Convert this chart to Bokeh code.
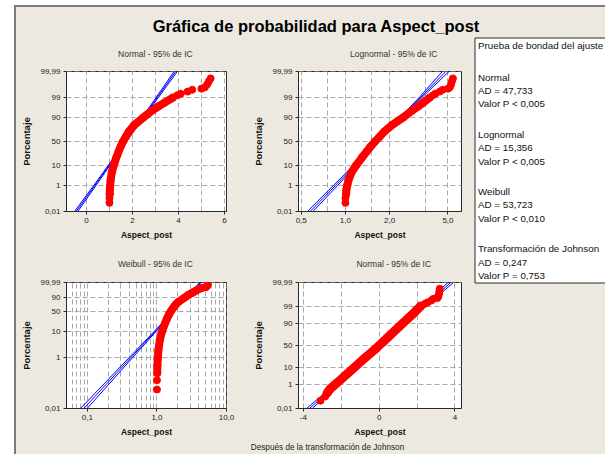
import math
from statistics import NormalDist
from bokeh.plotting import figure
from bokeh.layouts import row, column
from bokeh.models import Range1d, FixedTicker, CustomJSTickFormatter, Div, Spacer
from bokeh.core.properties import value
from bokeh.embed import file_html
from bokeh.resources import INLINE

# ---------------- texts ----------------
title_text = "Gráfica de probabilidad para Aspect_post"
subtitles = ["Normal - 95% de IC", "Lognormal - 95% de IC", "Weibull - 95% de IC", "Normal - 95% de IC"]
x_label = "Aspect_post"
y_label = "Porcentaje"
footnote = "Después de la transformación de Johnson"

legend_title = "Prueba de bondad del ajuste"
legend_blocks = [
    ["Normal", "AD = 47,733", "Valor P < 0,005"],
    ["Lognormal", "AD = 15,356", "Valor P < 0,005"],
    ["Weibull", "AD = 53,723", "Valor P < 0,010"],
    ["Transformación de Johnson", "AD = 0,247", "Valor P = 0,753"],
]

# ---------------- data ----------------
percent = [0.056, 0.13, 0.25, 0.5, 1, 2, 5, 10, 20, 30, 40, 50, 60, 70, 80, 90, 95, 97, 98, 99,
           99.3, 99.45, 99.6, 99.7, 99.75, 99.8, 99.88, 99.93, 99.96]
aspect_post = [1.00, 1.00, 1.01, 1.015, 1.03, 1.05, 1.10, 1.18, 1.30, 1.40, 1.49, 1.59, 1.71, 1.84, 2.05,
               2.48, 2.85, 3.15, 3.38, 3.75, 3.95, 4.10, 4.40, 4.60, 5.00, 5.15, 5.25, 5.32, 5.40]
johnson_values = [-3.10, -2.85, -2.75, -2.60, -2.35, -2.07, -1.66, -1.29, -0.86, -0.53, -0.25, 0.00, 0.24,
                  0.50, 0.80, 1.22, 1.57, 1.80, 1.95, 2.20, 2.42, 2.55, 2.75, 2.85, 3.08, 3.12, 3.16, 3.18, 3.20]

fit_pct = [0.01, 1, 50, 99, 99.99]
normal_fit = [-0.45, 0.37, 1.72, 3.07, 3.88]
normal_lo = [-0.52, 0.32, 1.70, 3.02, 3.81]
normal_hi = [-0.38, 0.42, 1.74, 3.12, 3.95]
lognormal_fit = [0.576, 0.858, 1.668, 3.24, 4.83]
lognormal_lo = [0.551, 0.830, 1.650, 3.17, 4.58]
lognormal_hi = [0.601, 0.887, 1.686, 3.31, 5.08]
johnson_fit = [-3.68, -2.28, 0.05, 2.38, 3.78]
johnson_lo = [-3.83, -2.38, 0.02, 2.30, 3.63]
johnson_hi = [-3.53, -2.18, 0.08, 2.46, 3.93]
weib_fit_pct = [0.01, 1, 10, 63.2, 99.99]
weibull_fit = [0.0886, 0.4209, 0.9313, 1.993, 4.22]
weibull_lo = [0.0794, 0.3973, 0.9014, 1.966, 4.12]
weibull_hi = [0.0991, 0.4459, 0.9622, 2.021, 4.32]

# ---------------- axes ----------------
pct_ticks = [0.01, 1, 10, 50, 90, 99, 99.99]
pct_labels = ["0,01", "1", "10", "50", "90", "99", "99,99"]
weib_pct_ticks = [0.01, 1, 10, 50, 90, 99.99]
weib_pct_labels = ["0,01", "1", "10", "50", "90", "99,99"]

x_ticks_normal = [0, 2, 4, 6]
x_labels_normal = ["0", "2", "4", "6"]
x_minor_normal = [1, 3, 5]
x_range_normal = (-0.87, 6.09)
x_ticks_lognormal = [0.5, 1.0, 2.0, 5.0]
x_labels_lognormal = ["0,5", "1,0", "2,0", "5,0"]
x_minor_lognormal = [0.75, 1.5, 3.5]
x_range_lognormal = (0.479, 6.18)
x_ticks_weibull = [0.1, 1.0, 10.0]
x_labels_weibull = ["0,1", "1,0", "10,0"]
x_minor_weibull = [0.05, 0.06, 0.07, 0.08, 0.09, 0.2, 0.3, 0.4, 0.5, 0.6, 0.7, 0.8, 0.9,
                   2, 3, 4, 5, 6, 7, 8, 9]
x_range_weibull = (0.05, 10.002)
x_ticks_johnson = [-4, 0, 4]
x_labels_johnson = ["-4", "0", "4"]
x_minor_johnson = [-2, 2]
x_range_johnson = (-4.26, 4.35)

# ---------------- style ----------------
BG = "#EDE9E0"
FRAME = "#2a2a2a"
EDGE = "#7a7a7a"
GRID = "#A8A8A8"
RED = "#FF0000"
BLUE = "#0000FF"
FONT = "Liberation Sans"
BOX_BG = {"background-color": BG}

nd = NormalDist()


def zq(p):
    return nd.inv_cdf(p / 100.0)


def wq(p):
    return math.log(-math.log(1.0 - p / 100.0))


def fmt(vals, labs):
    return CustomJSTickFormatter(args=dict(vals=list(vals), labs=list(labs)), code="""
        let best = ""; let bd = Infinity;
        for (let i = 0; i < vals.length; i++) {
            const d = Math.abs(tick - vals[i]);
            if (d < bd) { bd = d; best = labs[i]; }
        }
        return bd <= 1e-6 * Math.max(1, Math.abs(tick)) ? best : "";
    """)


def text_strip(width, height, x0, y0, xs, ys, texts, size, style="normal", align="center", color="#222222"):
    s = figure(width=width, height=height, x_range=Range1d(x0, x0 + width), y_range=Range1d(y0 + height, y0),
               x_axis_location=None, y_axis_location=None, min_border=0, output_backend="svg",
               toolbar_location=None, background_fill_color=BG, border_fill_color=BG,
               outline_line_color=None, styles=BOX_BG)
    s.grid.visible = False
    s.text(x=xs, y=ys, text=texts, text_font=value(FONT), text_font_style=style, text_font_size=size,
           text_align=align, text_baseline="middle", text_color=color)
    return s


def make_panel(width, height, borders, xr, x_log, xt, xl, xm, ykind, xs, fp, fit, lo, hi, band):
    left, right, top, bottom = borders
    if ykind == "normal":
        tf, yt, yl = zq, pct_ticks, pct_labels
    else:
        tf, yt, yl = wq, weib_pct_ticks, weib_pct_labels
    y0, y1 = tf(0.01), tf(99.99)
    eps = 1e-6 * (y1 - y0)
    p = figure(width=width, height=height, x_range=Range1d(*xr), y_range=Range1d(y0 - eps, y1 + eps),
               x_axis_type="log" if x_log else "linear", output_backend="svg", toolbar_location=None,
               min_border_left=left, min_border_right=right, min_border_top=top, min_border_bottom=bottom,
               background_fill_color="white", border_fill_color=BG,
               outline_line_color=FRAME, outline_line_width=1, styles=BOX_BG)
    # fitted line and 95% confidence bounds
    fy = [tf(q) for q in fp]
    for arr in (lo, fit, hi):
        p.line(arr, fy, line_color=BLUE, line_width=1)
    # data
    ys = [tf(q) for q in percent]
    dx = [x for x, q in zip(xs, percent) if 0.2 <= q <= 99.0]
    dy = [y for y, q in zip(ys, percent) if 0.2 <= q <= 99.0]
    p.line(dx, dy, line_color=RED, line_width=band, line_cap="round", line_join="round")
    p.scatter(xs, ys, size=7, fill_color=RED, line_color=RED)

    # axes
    p.xaxis.ticker = FixedTicker(ticks=xt, minor_ticks=xm)
    p.xaxis.formatter = fmt(xt, xl)
    yz = [tf(q) for q in yt]
    p.yaxis.ticker = FixedTicker(ticks=yz)
    p.yaxis.formatter = fmt(yz, yl)
    p.xaxis.axis_label = x_label
    p.yaxis.axis_label = y_label
    for ax in p.axis:
        ax.axis_line_color = FRAME
        ax.major_tick_line_color = FRAME
        ax.major_tick_in = 0
        ax.major_tick_out = 3
        ax.minor_tick_line_color = None
        ax.major_label_text_font = FONT
        ax.major_label_text_font_size = "8px"
        ax.major_label_text_color = "#1a1a1a"
        ax.axis_label_text_font = FONT
        ax.axis_label_text_font_style = "bold"
        ax.axis_label_text_color = "#111111"
    p.xaxis.axis_label_text_font_size = "8.5px"
    p.yaxis.axis_label_text_font_size = "9.5px"
    p.xaxis.major_label_standoff = 2
    p.yaxis.major_label_standoff = 3
    p.xaxis.axis_label_standoff = 4
    p.yaxis.axis_label_standoff = 5
    for g in (p.xgrid, p.ygrid):
        g.grid_line_color = GRID
        g.grid_line_dash = "5 3"
        g.grid_line_width = 1
    p.xgrid.minor_grid_line_color = GRID
    p.xgrid.minor_grid_line_dash = "5 3"
    return p


# top row panels (page y 60..246, frames 71..211)
p1 = make_panel(234, 186, (50, 24, 11, 35), x_range_normal, False, x_ticks_normal, x_labels_normal,
                x_minor_normal, "normal", aspect_post, fit_pct, normal_fit, normal_lo, normal_hi, 8)
p2 = make_panel(220, 186, (46, 9, 11, 35), x_range_lognormal, True, x_ticks_lognormal, x_labels_lognormal,
                x_minor_lognormal, "normal", aspect_post, fit_pct, lognormal_fit, lognormal_lo,
                lognormal_hi, 8)
# bottom row panels (page y 270..439, frames 282..408)
p3 = make_panel(234, 169, (50, 24, 12, 31), x_range_weibull, True, x_ticks_weibull, x_labels_weibull,
                x_minor_weibull, "weibull", aspect_post, weib_fit_pct, weibull_fit, weibull_lo,
                weibull_hi, 8)
p4 = make_panel(220, 169, (46, 9, 12, 31), x_range_johnson, False, x_ticks_johnson, x_labels_johnson,
                x_minor_johnson, "normal", johnson_values, fit_pct, johnson_fit, johnson_lo, johnson_hi, 9)

s1 = text_strip(234, 24, 16, 36, [146], [53.3], [subtitles[0]], "8.5px", color="#333333")
s2 = text_strip(220, 24, 250, 36, [378.5], [53.3], [subtitles[1]], "8.5px", color="#333333")
s3 = text_strip(234, 24, 16, 246, [146], [263.3], [subtitles[2]], "8.5px", color="#333333")
s4 = text_strip(220, 24, 250, 246, [378.5], [263.3], [subtitles[3]], "8.5px", color="#333333")
foot = text_strip(454, 15, 16, 439, [327], [446.5], [footnote], "8.2px")

header = text_strip(589, 29, 16, 7, [315.8], [25.5], [title_text], "16.5px", style="bold", color="#000000")

# ---------------- goodness-of-fit box ----------------
leg = figure(width=135, height=418, x_range=Range1d(470, 605), y_range=Range1d(454, 36),
             x_axis_location=None, y_axis_location=None, min_border=0, output_backend="svg",
             toolbar_location=None, background_fill_color=BG, border_fill_color=BG,
             outline_line_color=None, styles=BOX_BG)
leg.grid.visible = False
leg.quad(left=[474.5], right=[640], top=[37.5], bottom=[282.5], fill_color="white", line_color=FRAME,
         line_width=1)
lines = [legend_title]
ys = [45.0]
for k, blk in enumerate(legend_blocks):
    for j, t in enumerate(blk):
        lines.append(t)
        ys.append(76.7 + k * 57.2 + j * 13.33)
leg.text(x=[477.5] * len(lines), y=ys, text=lines, text_font=value(FONT), text_font_size="9.8px",
         text_align="left", text_baseline="middle", text_color="#111111")

# ---------------- page frame ----------------
colA = column(s1, p1, s3, p3, styles=BOX_BG)
colB = column(s2, p2, s4, p4, styles=BOX_BG)
plots = column(row(colA, colB, styles=BOX_BG), foot, styles=BOX_BG)
main = column(header, row(plots, leg, styles=BOX_BG), styles=BOX_BG)
top_line = Div(text="", width=589, height=2, margin=(0, 0, 0, 0), styles={"background-color": EDGE})
left_line = Div(text="", width=2, height=449, margin=(0, 0, 0, 0), styles={"background-color": EDGE})
layout = column(
    Spacer(width=605, height=5, margin=(0, 0, 0, 0)),
    row(Spacer(width=14, height=449, margin=(0, 0, 0, 0)), left_line, column(top_line, main)),
)

open("out.html", "w").write(file_html(layout, INLINE))
